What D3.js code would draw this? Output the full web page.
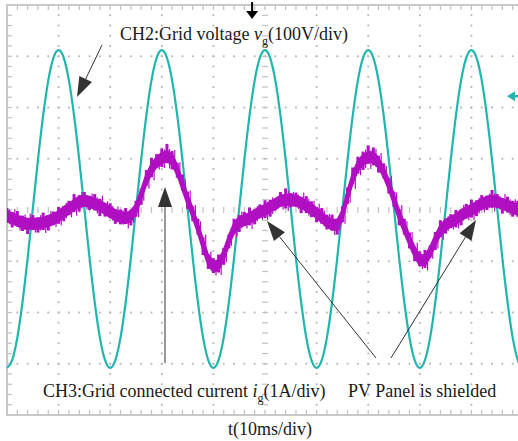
<!DOCTYPE html>
<html>
<head>
<meta charset="utf-8">
<script src="https://cdn.jsdelivr.net/npm/d3@7"></script>
<style>
body { margin: 0; background: #fff; }
text { font-family: "Liberation Serif", "Times New Roman", serif; fill: #1a1a1a; }
</style>
</head>
<body>
<div id="scope"></div>
<script>
// sample spacing of both traces (ms)
var sampleMs = 1;

// CH2 grid voltage (V), one sample per ms
var gridVoltage = [
  -308,-293,-249,-180,-94,2,98,184,253,297,312,297,253,184,98,2,-94,-180,-249,-293,
  -308,-293,-249,-180,-94,2,98,184,253,297,312,297,253,184,98,2,-94,-180,-249,-293,
  -308,-293,-249,-180,-94,2,98,184,253,297,312,297,253,184,98,2,-94,-180,-249,-293,
  -308,-293,-249,-180,-94,2,98,184,253,297,312,297,253,184,98,2,-94,-180,-249,-293,
  -308,-293,-249,-180,-94,2,98,184,253,297,312,297,253,184,98,2,-94,-180,-249,-293,
  -308
];

// CH3 grid current (A): middle of the noisy trace
var currentMid = [
  -0.12,-0.16,-0.21,-0.25,-0.27,-0.27,-0.27,-0.25,-0.21,-0.18,
  -0.12,-0.04,0.02,0.10,0.16,0.18,0.16,0.12,0.08,0.02,
  -0.04,-0.10,-0.14,-0.16,-0.12,0.02,0.30,0.60,0.80,0.94,
  1.01,1.05,0.98,0.78,0.49,0.20,-0.06,-0.35,-0.68,-0.98,
  -1.11,-1.07,-0.88,-0.59,-0.35,-0.23,-0.20,-0.16,-0.10,-0.04,
  0.00,0.06,0.12,0.18,0.20,0.20,0.18,0.14,0.08,0.02,
  -0.06,-0.14,-0.23,-0.29,-0.29,-0.10,0.29,0.62,0.86,0.98,
  1.03,1.03,0.92,0.74,0.49,0.20,-0.10,-0.35,-0.59,-0.82,
  -0.98,-0.98,-0.82,-0.59,-0.39,-0.29,-0.23,-0.18,-0.10,-0.04,
  0.00,0.06,0.12,0.16,0.18,0.16,0.12,0.08,0.04,0.02,0.00
];
// noise peaks above / below the middle (A)
var currentUp = [
  0.16,0.12,0.19,0.14,0.10,0.17,0.13,0.20,0.11,0.15,
  0.18,0.12,0.16,0.21,0.13,0.17,0.10,0.19,0.14,0.12,
  0.17,0.11,0.15,0.20,0.13,0.16,0.12,0.18,0.22,0.15,
  0.19,0.24,0.17,0.14,0.20,0.16,0.13,0.18,0.15,0.12,
  0.17,0.20,0.14,0.11,0.18,0.13,0.16,0.21,0.12,0.15,
  0.19,0.14,0.10,0.17,0.22,0.13,0.16,0.12,0.19,0.15,
  0.11,0.18,0.14,0.20,0.12,0.17,0.15,0.21,0.18,0.16,
  0.23,0.19,0.14,0.17,0.13,0.16,0.12,0.18,0.15,0.11,
  0.17,0.20,0.13,0.16,0.19,0.12,0.15,0.18,0.11,0.16,
  0.20,0.13,0.17,0.12,0.21,0.15,0.11,0.18,0.14,0.16,0.13
];
var currentDn = [
  0.13,0.18,0.11,0.16,0.20,0.12,0.17,0.14,0.19,0.10,
  0.15,0.18,0.12,0.14,0.19,0.11,0.16,0.13,0.20,0.15,
  0.12,0.17,0.14,0.11,0.18,0.15,0.20,0.13,0.16,0.12,
  0.17,0.14,0.19,0.15,0.11,0.18,0.16,0.13,0.20,0.17,
  0.12,0.15,0.19,0.16,0.13,0.20,0.11,0.14,0.18,0.12,
  0.16,0.19,0.13,0.11,0.17,0.15,0.12,0.20,0.14,0.16,
  0.18,0.13,0.15,0.11,0.19,0.14,0.17,0.12,0.15,0.20,
  0.13,0.16,0.19,0.12,0.17,0.14,0.20,0.13,0.16,0.18,
  0.12,0.15,0.11,0.19,0.14,0.17,0.12,0.16,0.20,0.13,
  0.15,0.18,0.12,0.16,0.14,0.11,0.19,0.13,0.17,0.15,0.12
];

// screen divisions
var timeDivs = [0,10,20,30,40,50,60,70,80,90,100];
var voltDivs = [-400,-300,-200,-100,0,100,200,300,400];
var triggerTime = 47.5;
var ch2Level = 222;

var width = 518,
    height = 441;

var teal = "#22b5ae",
    magenta = "#b10fc2";

var svg = d3.select("#scope")
    .append("svg")
    .attr("width", width)
    .attr("height", height);

var x = d3.scaleLinear().domain([0, 100]).range([7, 523]);
var yV = d3.scaleLinear().domain([-400, 400]).range([415, 5]);
var yI = d3.scaleLinear().domain([-4, 4]).range([415, 5]);

var tMinor = d3.range(0, 100.01, 2);
var vMinor = d3.range(-400, 400.01, 20);

/* graticule */
var grid = svg.append("g").attr("fill", "#b4b4b4");
voltDivs.slice(1, -1).filter(function(v) { return v != 0; }).forEach(function(v) {
    grid.selectAll(null).data(tMinor).enter().append("rect")
        .attr("x", function(t) { return x(t) - 0.9; })
        .attr("y", yV(v) - 0.9)
        .attr("width", 1.8).attr("height", 1.8);
});
timeDivs.slice(1, -1).filter(function(t) { return t != 50; }).forEach(function(t) {
    grid.selectAll(null).data(vMinor).enter().append("rect")
        .attr("x", x(t) - 0.9)
        .attr("y", function(v) { return yV(v) - 0.9; })
        .attr("width", 1.8).attr("height", 1.8);
});

var ticks = svg.append("g").attr("stroke", "#c0c0c0").attr("stroke-width", 1.2);
// centre cross
ticks.selectAll(null).data(vMinor).enter().append("line")
    .attr("x1", x(50) - 3).attr("x2", x(50) + 3)
    .attr("y1", function(v) { return yV(v); }).attr("y2", function(v) { return yV(v); });
ticks.selectAll(null).data(tMinor).enter().append("line")
    .attr("x1", function(t) { return x(t); }).attr("x2", function(t) { return x(t); })
    .attr("y1", yV(0) - 3).attr("y2", yV(0) + 3);
// border ticks
ticks.selectAll(null).data(tMinor).enter().append("line")
    .attr("x1", function(t) { return x(t); }).attr("x2", function(t) { return x(t); })
    .attr("y1", yV(400)).attr("y2", yV(400) + 5);
ticks.selectAll(null).data(tMinor).enter().append("line")
    .attr("x1", function(t) { return x(t); }).attr("x2", function(t) { return x(t); })
    .attr("y1", yV(-400)).attr("y2", yV(-400) - 5);
ticks.selectAll(null).data(vMinor).enter().append("line")
    .attr("x1", x(0)).attr("x2", x(0) + 5)
    .attr("y1", function(v) { return yV(v); }).attr("y2", function(v) { return yV(v); });

svg.append("rect")
    .attr("x", x(0)).attr("y", yV(400))
    .attr("width", x(100) - x(0)).attr("height", yV(-400) - yV(400))
    .attr("fill", "none").attr("stroke", "#c8c8c8").attr("stroke-width", 2);

/* traces */
svg.append("clipPath").attr("id", "screen")
    .append("rect")
    .attr("x", x(0)).attr("y", yV(400))
    .attr("width", x(100) - x(0)).attr("height", yV(-400) - yV(400));

var voltLine = d3.line()
    .curve(d3.curveMonotoneX)
    .x(function(d, i) { return x(i * sampleMs); })
    .y(function(d) { return yV(d); });

// core of the noisy current trace, spikes are added on top
var currentCore = d3.area()
    .x(function(d, i) { return x(i * sampleMs); })
    .y0(function(d) { return yI(d) + 5; })
    .y1(function(d) { return yI(d) - 5; });

var traces = svg.append("g").attr("clip-path", "url(#screen)");
traces.append("path")
    .attr("d", voltLine(gridVoltage))
    .attr("fill", "none")
    .attr("stroke", teal)
    .attr("stroke-width", 2.2);
traces.append("path")
    .attr("d", currentCore(currentMid))
    .attr("fill", magenta)
    .attr("stroke", magenta)
    .attr("stroke-width", 2);
traces.append("g")
    .selectAll("rect")
    .data(currentMid)
    .enter().append("rect")
    .attr("x", function(d, i) { return x(i * sampleMs) - 1.5; })
    .attr("width", 3)
    .attr("y", function(d, i) { return yI(d + currentUp[i]); })
    .attr("height", function(d, i) { return yI(d - currentDn[i]) - yI(d + currentUp[i]); })
    .attr("fill", magenta);
traces.append("g")
    .selectAll("line")
    .data(currentMid)
    .enter().append("line")
    .attr("x1", function(d, i) { return x(i * sampleMs) + 2.6; })
    .attr("x2", function(d, i) { return x(i * sampleMs) + 2.6; })
    .attr("y1", function(d, i) { return yI(d + currentDn[i]); })
    .attr("y2", function(d, i) { return yI(d - currentUp[i]); })
    .attr("stroke", magenta)
    .attr("stroke-width", 1.2);

/* trigger and level markers */
svg.append("line")
    .attr("x1", x(triggerTime)).attr("x2", x(triggerTime))
    .attr("y1", 2).attr("y2", 12)
    .attr("stroke", "#000").attr("stroke-width", 2);
svg.append("path")
    .attr("d", "M" + (x(triggerTime) - 6) + ",11L" + (x(triggerTime) + 6) + ",11L" + x(triggerTime) + ",19Z")
    .attr("fill", "#000");
svg.append("path")
    .attr("d", "M507," + yV(ch2Level) + "L515," + (yV(ch2Level) - 5) + "L515," + (yV(ch2Level) + 5) + "Z")
    .attr("fill", teal);
svg.append("line")
    .attr("x1", 514).attr("x2", 518)
    .attr("y1", yV(ch2Level)).attr("y2", yV(ch2Level))
    .attr("stroke", teal).attr("stroke-width", 2.5);

/* annotations */
var drawArrow = function(x1, y1, x2, y2) {
    var a = Math.atan2(y2 - y1, x2 - x1),
        len = 20, half = 7;
    var bx = x2 - len * Math.cos(a), by = y2 - len * Math.sin(a);
    svg.append("line")
        .attr("x1", x1).attr("y1", y1).attr("x2", bx).attr("y2", by)
        .attr("stroke", "#333").attr("stroke-width", 1);
    svg.append("path")
        .attr("d", "M" + x2 + "," + y2 +
            "L" + (bx + half * Math.sin(a)) + "," + (by - half * Math.cos(a)) +
            "L" + (bx - half * Math.sin(a)) + "," + (by + half * Math.cos(a)) + "Z")
        .attr("fill", "#333");
}

drawArrow(102, 45, 77, 97);
drawArrow(165, 363, 165, 187);
drawArrow(376, 358, 267, 221);
drawArrow(391, 358, 476, 220);

var label = function(xp, yp, parts) {
    var t = svg.append("text").attr("x", xp).attr("y", yp).attr("font-size", 18);
    parts.forEach(function(p) {
        var s = t.append("tspan").text(p.s);
        if (p.it) s.attr("font-style", "italic");
        if (p.sub) s.attr("font-size", 12).attr("dy", 5);
        if (p.up) s.attr("dy", -5);
    });
}

label(120, 40, [{s: "CH2:Grid voltage "}, {s: "v", it: true}, {s: "g", sub: true}, {s: "(100V/div)", up: true}]);
label(43, 397, [{s: "CH3:Grid connected current "}, {s: "i", it: true}, {s: "g", sub: true}, {s: "(1A/div)", up: true}]);
label(348, 397, [{s: "PV Panel is shielded"}]);
label(228, 435, [{s: "t(10ms/div)"}]);
</script>
</body>
</html>
